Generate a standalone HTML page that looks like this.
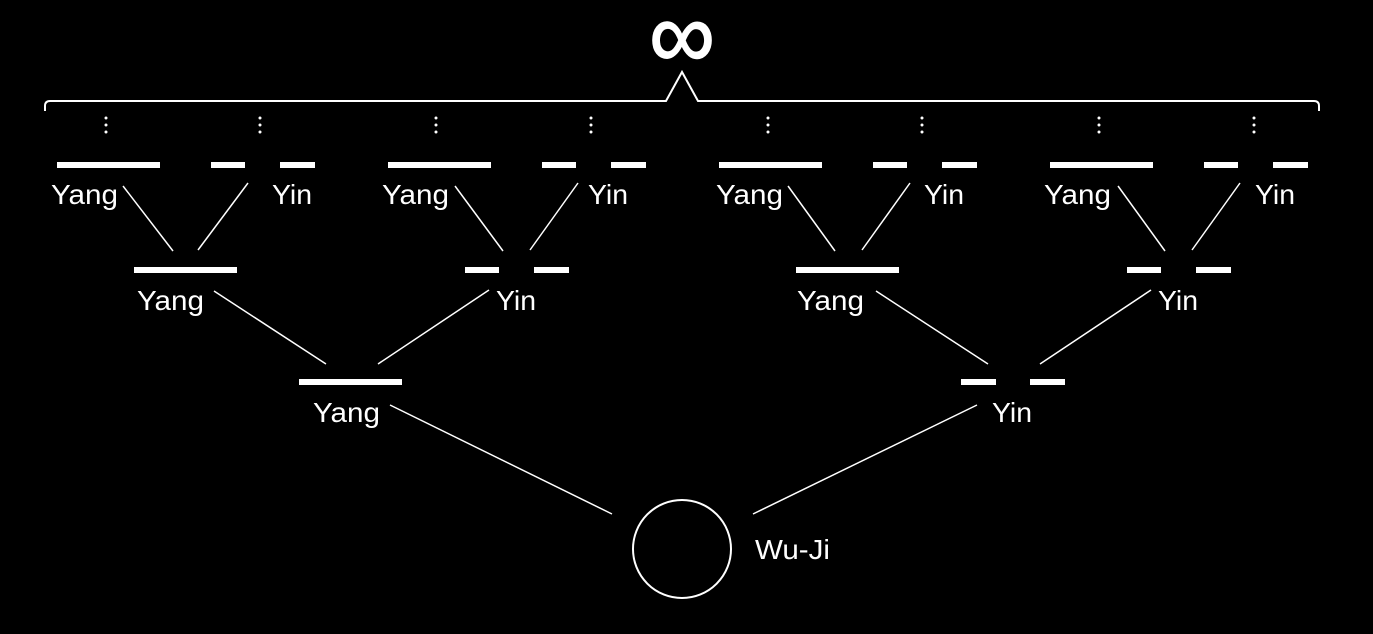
<!DOCTYPE html>
<html><head><style>
html,body{margin:0;padding:0;background:#000;}
svg{display:block}
text{font-family:"Liberation Sans",sans-serif;fill:#fff;font-size:28px}
</style></head><body>
<svg width="1373" height="634" viewBox="0 0 1373 634" xmlns="http://www.w3.org/2000/svg">
<g fill="#fff">
<rect x="57" y="162" width="103" height="6"/><rect x="211" y="162" width="34" height="6"/><rect x="280" y="162" width="35" height="6"/>
<rect x="388" y="162" width="103" height="6"/><rect x="542" y="162" width="34" height="6"/><rect x="611" y="162" width="35" height="6"/>
<rect x="719" y="162" width="103" height="6"/><rect x="873" y="162" width="34" height="6"/><rect x="942" y="162" width="35" height="6"/>
<rect x="1050" y="162" width="103" height="6"/><rect x="1204" y="162" width="34" height="6"/><rect x="1273" y="162" width="35" height="6"/>
<rect x="134" y="267" width="103" height="6"/><rect x="465" y="267" width="34" height="6"/><rect x="534" y="267" width="35" height="6"/>
<rect x="796" y="267" width="103" height="6"/><rect x="1127" y="267" width="34" height="6"/><rect x="1196" y="267" width="35" height="6"/>
<rect x="299" y="379" width="103" height="6"/><rect x="961" y="379" width="35" height="6"/><rect x="1030" y="379" width="35" height="6"/>
</g>
<g fill="#fff">
<circle cx="106" cy="118" r="1.5"/><circle cx="106" cy="125" r="1.5"/><circle cx="106" cy="132" r="1.5"/>
<circle cx="260" cy="118" r="1.5"/><circle cx="260" cy="125" r="1.5"/><circle cx="260" cy="132" r="1.5"/>
<circle cx="436" cy="118" r="1.5"/><circle cx="436" cy="125" r="1.5"/><circle cx="436" cy="132" r="1.5"/>
<circle cx="591" cy="118" r="1.5"/><circle cx="591" cy="125" r="1.5"/><circle cx="591" cy="132" r="1.5"/>
<circle cx="768" cy="118" r="1.5"/><circle cx="768" cy="125" r="1.5"/><circle cx="768" cy="132" r="1.5"/>
<circle cx="922" cy="118" r="1.5"/><circle cx="922" cy="125" r="1.5"/><circle cx="922" cy="132" r="1.5"/>
<circle cx="1099" cy="118" r="1.5"/><circle cx="1099" cy="125" r="1.5"/><circle cx="1099" cy="132" r="1.5"/>
<circle cx="1254" cy="118" r="1.5"/><circle cx="1254" cy="125" r="1.5"/><circle cx="1254" cy="132" r="1.5"/>
</g>
<g stroke="#fff" stroke-width="1.5" fill="none">
<line x1="123" y1="186" x2="173" y2="251"/><line x1="248" y1="183" x2="198" y2="250"/>
<line x1="455" y1="186" x2="503" y2="251"/><line x1="578" y1="183" x2="530" y2="250"/>
<line x1="788" y1="186" x2="835" y2="251"/><line x1="910" y1="183" x2="862" y2="250"/>
<line x1="1118" y1="186" x2="1165" y2="251"/><line x1="1240" y1="183" x2="1192" y2="250"/>
<line x1="214" y1="291" x2="326" y2="364"/><line x1="489" y1="290" x2="378" y2="364"/>
<line x1="876" y1="291" x2="988" y2="364"/><line x1="1151" y1="290" x2="1040" y2="364"/>
<line x1="390" y1="405" x2="612" y2="514"/><line x1="977" y1="405" x2="753" y2="514"/>
<circle cx="682" cy="549" r="49" stroke-width="2"/>
<path d="M45 111 V106 Q45 101 50 101 H666 L682 72 L698 101 H1314 Q1319 101 1319 106 V111" stroke-width="2"/>
</g>
<g lengthAdjust="spacingAndGlyphs">
<text x="51" y="204" textLength="67" lengthAdjust="spacingAndGlyphs">Yang</text><text x="272" y="204" textLength="40" lengthAdjust="spacingAndGlyphs">Yin</text>
<text x="382" y="204" textLength="67" lengthAdjust="spacingAndGlyphs">Yang</text><text x="588" y="204" textLength="40" lengthAdjust="spacingAndGlyphs">Yin</text>
<text x="716" y="204" textLength="67" lengthAdjust="spacingAndGlyphs">Yang</text><text x="924" y="204" textLength="40" lengthAdjust="spacingAndGlyphs">Yin</text>
<text x="1044" y="204" textLength="67" lengthAdjust="spacingAndGlyphs">Yang</text><text x="1255" y="204" textLength="40" lengthAdjust="spacingAndGlyphs">Yin</text>
<text x="137" y="310" textLength="67" lengthAdjust="spacingAndGlyphs">Yang</text><text x="496" y="310" textLength="40" lengthAdjust="spacingAndGlyphs">Yin</text>
<text x="797" y="310" textLength="67" lengthAdjust="spacingAndGlyphs">Yang</text><text x="1158" y="310" textLength="40" lengthAdjust="spacingAndGlyphs">Yin</text>
<text x="313" y="422" textLength="67" lengthAdjust="spacingAndGlyphs">Yang</text><text x="992" y="422" textLength="40" lengthAdjust="spacingAndGlyphs">Yin</text>
<text x="755" y="559" textLength="75" lengthAdjust="spacingAndGlyphs">Wu-Ji</text>
</g>
<text x="649" y="68" style="font-size:96px;stroke:#fff;stroke-width:1.5" textLength="66" lengthAdjust="spacingAndGlyphs">∞</text>
</svg>
</body></html>
